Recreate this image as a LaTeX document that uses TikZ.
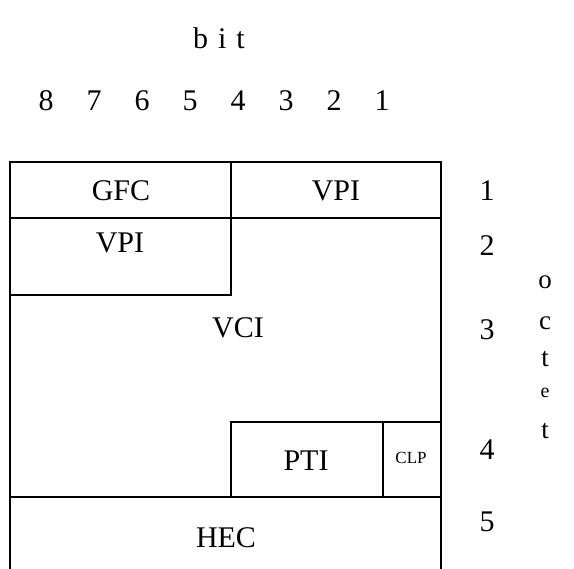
\documentclass[tikz,border=0pt]{standalone}
\usepackage{fontspec}
\setmainfont{Liberation Serif}
\usetikzlibrary{positioning}
\begin{document}
\begin{tikzpicture}[
        x=1pt, y=-1pt,
        % Stili per i campi e le etichette
        field/.style={font=\fontsize{30}{34}\selectfont, inner sep=0pt},
        tiny/.style={font=\fontsize{17}{20}\selectfont, inner sep=0pt},
        num/.style={font=\fontsize{30}{34}\selectfont, inner sep=0pt},
        letter/.style={font=\fontsize{27}{30}\selectfont, inner sep=0pt},
        frame/.style={line width=1.8pt, line cap=rect}
    ]
    \useasboundingbox (0,0) rectangle (574,569);

    % --- BIT HEADER ---
    \node[field] (bitlbl) at (219, 38) {b\,\,i\,\,t};
    \foreach \b [count=\i from 0] in {8,7,6,5,4,3,2,1} {
        \node[num] (bit\b) at (46+48*\i, 101) {\b};
    }

    % --- HEADER FRAME ---
    \draw[frame] (10,569) -- (10,162) -- (441,162) -- (441,569);
    \draw[frame] (10,218) -- (441,218);
    \draw[frame] (231,162) -- (231,295) -- (10,295);
    \draw[frame] (231,497) -- (231,422) -- (441,422);
    \draw[frame] (383,422) -- (383,497);
    \draw[frame] (10,497) -- (441,497);

    % --- FIELDS ---
    \node[field] (gfc) at (121, 191) {GFC};
    \node[field] (vpiA) at (336, 191) {VPI};
    \node[field] (vpiB) at (120, 243) {VPI};
    \node[field] (vci) at (238, 328) {VCI};
    \node[field] (pti) at (306, 461) {PTI};
    \node[tiny] (clp) at (411, 458) {CLP};
    \node[field] (hec) at (226, 538) {HEC};

    % --- OCTET NUMBERS ---
    \foreach \o/\y in {1/191, 2/246, 3/330, 4/450, 5/522} {
        \node[num] (oct\o) at (487, \y) {\o};
    }
    \node[letter] (lo) at (545, 282) {o};
    \node[letter] (lc) at (545, 323) {c};
    \node[letter] (lt) at (545, 359) {t};
    \node[tiny, font=\fontsize{20}{22}\selectfont] (le) at (545, 393) {e};
    \node[letter] (lt2) at (545, 431) {t};

\end{tikzpicture}
\end{document}
